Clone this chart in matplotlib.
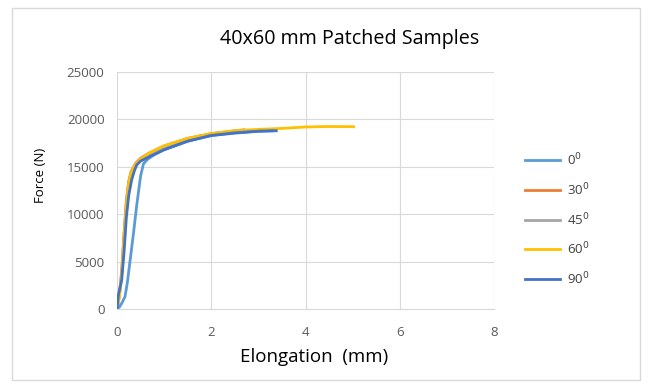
import matplotlib
matplotlib.use("Agg")
import matplotlib.pyplot as plt
from matplotlib.patches import Rectangle
from matplotlib.lines import Line2D

plt.rcParams['font.family'] = ['Open Sans', 'DejaVu Sans']

title = "40x60 mm Patched Samples"
xlabel = "Elongation  (mm)"
ylabel = "Force (N)"
labels = ["0$^0$", "30$^0$", "45$^0$", "60$^0$", "90$^0$"]
colors = ["#5B9BD5", "#ED7D31", "#A5A5A5", "#FFC000", "#4472C4"]

x_0 = [0, 0.05, 0.1, 0.17, 0.22, 0.28, 0.35, 0.42, 0.5, 0.56, 0.65, 0.8, 1.0, 1.5, 2.0, 2.5, 3.0, 3.3]
y_0 = [0, 200, 600, 1300, 2800, 5200, 8000, 11000, 14000, 15300, 15800, 16300, 16800, 17700, 18300, 18600, 18750, 18800]

x_30 = [0, 0.05, 0.1, 0.15, 0.2, 0.25, 0.3, 0.4, 0.5, 0.7, 1.0, 1.5, 2.0, 2.5, 2.7]
y_30 = [0, 1500, 4000, 8000, 11500, 13500, 14500, 15400, 15900, 16500, 17200, 18000, 18500, 18800, 18900]

x_45 = [0, 0.05, 0.1, 0.15, 0.2, 0.25, 0.3, 0.4, 0.5, 0.7, 1.0, 1.5, 2.0, 2.4]
y_45 = [0, 1400, 3800, 7800, 11300, 13400, 14400, 15300, 15800, 16400, 17100, 17900, 18400, 18650]

x_60 = [0, 0.05, 0.1, 0.15, 0.2, 0.25, 0.3, 0.4, 0.5, 0.7, 1.0, 1.5, 2.0, 2.5, 3.0, 3.5, 4.0, 4.5, 5.02]
y_60 = [0, 1200, 3500, 7500, 11000, 13300, 14400, 15300, 15800, 16500, 17200, 18000, 18500, 18800, 18950, 19050, 19200, 19250, 19230]

x_90 = [0, 0.03, 0.1, 0.15, 0.2, 0.25, 0.31, 0.37, 0.42, 0.5, 0.7, 1.0, 1.5, 2.0, 2.5, 3.0, 3.38]
y_90 = [0, 1500, 3060, 6000, 9740, 12000, 13600, 14600, 15200, 15600, 16100, 16800, 17700, 18300, 18550, 18750, 18800]

series = [(x_0, y_0), (x_30, y_30), (x_45, y_45), (x_60, y_60), (x_90, y_90)]

W, H = 648, 387
fig = plt.figure(figsize=(W / 100, H / 100), dpi=100)
fig.patches.append(Rectangle((12 / W, 1 - 380 / H), (640 - 12) / W, (380 - 8) / H,
                             transform=fig.transFigure, fill=False,
                             edgecolor="#D9D9D9", linewidth=1.0))
ax = fig.add_axes([117 / W, 78 / H, (494 - 117) / W, (309 - 72) / H])

order = [1, 2, 3, 0, 4]
for i in order:
    xs, ys = series[i]
    ax.plot(xs, ys, color=colors[i], linewidth=2.0, label=labels[i], zorder=2 + (i == 4))

ax.set_xlim(0, 8)
ax.set_ylim(0, 25000)
ax.set_xticks([0, 2, 4, 6, 8])
ax.set_yticks([0, 5000, 10000, 15000, 20000, 25000])
ax.grid(True, color="#D9D9D9", linewidth=0.8)
ax.set_axisbelow(True)
for s in ["top", "right", "left"]:
    ax.spines[s].set_visible(False)
ax.spines["bottom"].set_color("#D9D9D9")
ax.tick_params(length=0, labelsize=9.5, labelcolor="#595959")
ax.tick_params(axis="x", pad=12)
ax.tick_params(axis="y", pad=9)

fig.text(314 / W, 1 - 357 / H, xlabel, ha="center", va="center", fontsize=13.5, color="#000000")
fig.text(40 / W, 1 - 175 / H, ylabel, ha="center", va="center", rotation=90, fontsize=9.5, color="#000000")
fig.text(350 / W, 1 - 39 / H, title, ha="center", va="center", fontsize=14.2, color="#000000")

# legend, entries drawn from the series colours and labels
leg_y = [160, 190, 220, 249, 279]
for i in range(len(labels)):
    y = 1 - leg_y[i] / H
    fig.add_artist(Line2D([525 / W, 560 / W], [y, y], transform=fig.transFigure,
                          color=colors[i], linewidth=2.0))
    fig.text(567 / W, y, labels[i], ha="left", va="center", fontsize=9.5, color="#404040")

fig.savefig("out.png", dpi=100)
